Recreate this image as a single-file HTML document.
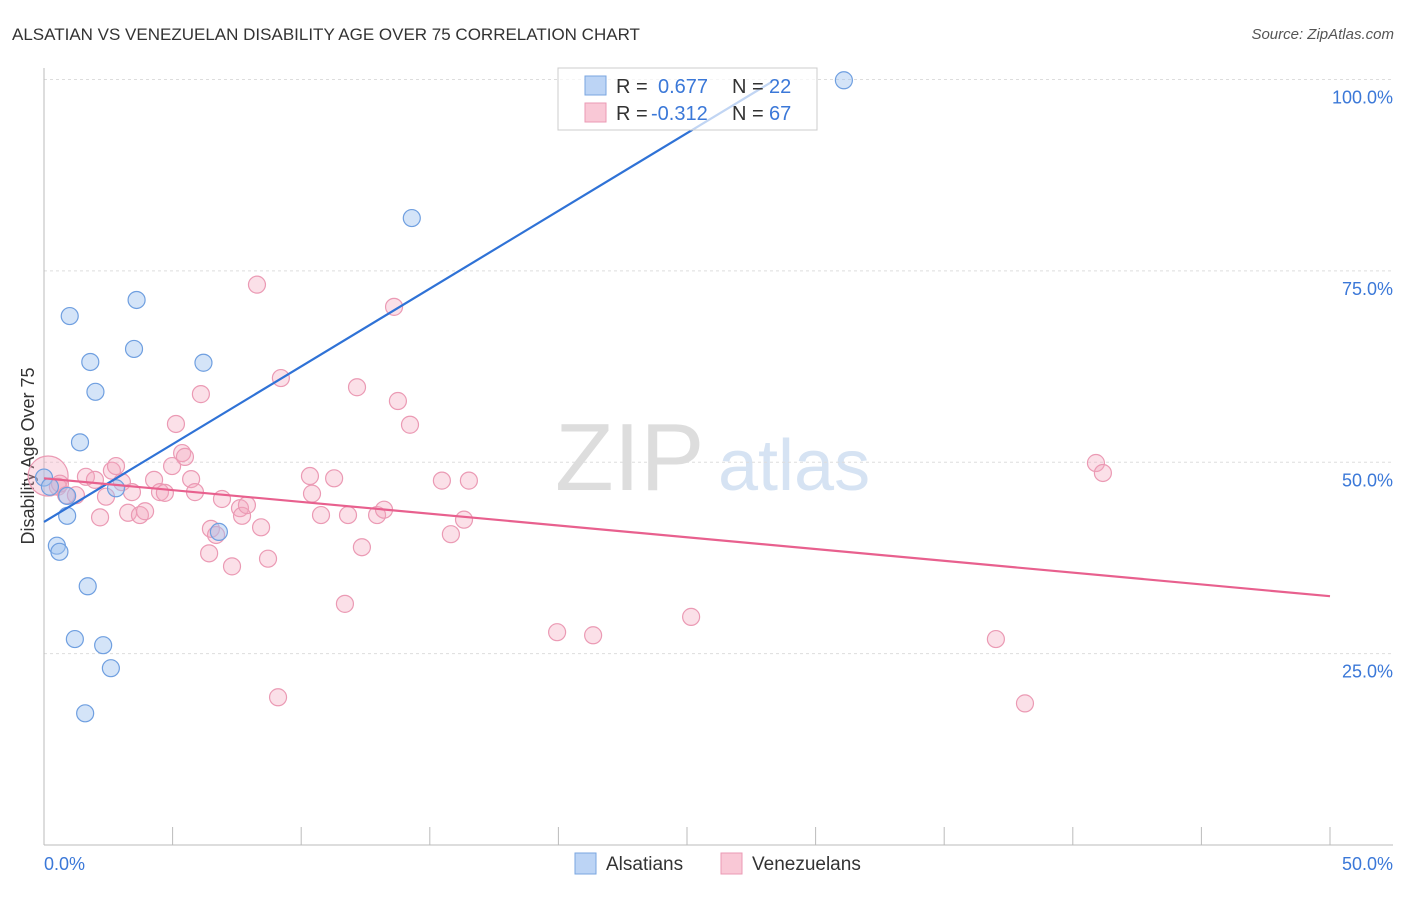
<!DOCTYPE html>
<html><head><meta charset="utf-8"><style>
body{margin:0;background:#fff;font-family:"Liberation Sans",sans-serif;}
svg text{font-family:"Liberation Sans",sans-serif;}
</style></head><body>
<svg id="c" width="1406" height="892" xmlns="http://www.w3.org/2000/svg">
<text x="12" y="40" font-size="17" fill="#333">ALSATIAN VS VENEZUELAN DISABILITY AGE OVER 75 CORRELATION CHART</text>
<text x="1394" y="39" font-size="15" fill="#555" text-anchor="end" font-style="italic">Source: ZipAtlas.com</text>
<text x="34" y="456" font-size="18" fill="#333" text-anchor="middle" transform="rotate(-90 34 456)">Disability Age Over 75</text>
<g><text x="555" y="490" font-size="96" fill="#ddd" font-family="Liberation Serif">ZIP</text><text x="718" y="490" font-size="72" fill="#d6e3f3">atlas</text></g>
<g id="grid"></g><g id="axes"></g><g id="pts"></g><g id="lines"></g>
<g>
<rect x="558" y="68" width="259" height="62" fill="#fff" fill-opacity="0.7" stroke="#ccc"/>
<rect x="585" y="76" width="21" height="19" fill="#bcd4f5" stroke="#7aa6e0"/>
<rect x="585" y="103" width="21" height="19" fill="#f9c8d6" stroke="#eb9ab4"/>
<text x="616" y="93" font-size="20" fill="#333">R =</text>
<text x="658" y="93" font-size="20" fill="#3b78d8">0.677</text>
<text x="732" y="93" font-size="20" fill="#333">N =</text>
<text x="769" y="93" font-size="20" fill="#3b78d8">22</text>
<text x="616" y="120" font-size="20" fill="#333">R =</text>
<text x="651" y="120" font-size="20" fill="#3b78d8">-0.312</text>
<text x="732" y="120" font-size="20" fill="#333">N =</text>
<text x="769" y="120" font-size="20" fill="#3b78d8">67</text>
</g>
<g>
<rect x="575" y="853" width="21" height="21" fill="#bcd4f5" stroke="#7aa6e0"/>
<text x="606" y="870" font-size="19" fill="#333">Alsatians</text>
<rect x="721" y="853" width="21" height="21" fill="#f9c8d6" stroke="#eb9ab4"/>
<text x="752" y="870" font-size="19" fill="#333">Venezuelans</text>
</g>
</svg>
<script>
const yTicks=[100,75,50,25];
const yTickLabels=["100.0%","75.0%","50.0%","25.0%"];
const xTickLabels=["0.0%","50.0%"];
const blueX=[0,0.23,1.0,1.8,2.0,3.6,3.5,6.2,1.4,0.9,0.9,0.5,0.6,1.7,1.2,2.3,2.6,1.6,2.8,6.8,14.3,31.1];
const blueY=[48.0,46.8,69.1,63.1,59.2,71.2,64.8,63.0,52.6,45.6,43.0,39.1,38.3,33.8,26.9,26.1,23.1,17.2,46.6,40.9,81.9,99.9];
const pinkX=[0.16,0.54,0.86,1.24,0.62,1.63,1.98,2.41,2.18,2.64,2.80,3.03,3.42,3.27,3.73,3.93,4.28,4.51,4.70,4.98,5.13,5.37,5.48,5.72,5.87,6.10,6.42,6.49,6.69,6.92,7.31,7.62,7.70,7.89,8.28,8.44,8.71,9.10,9.21,10.34,10.42,10.77,11.28,11.70,11.82,12.17,12.36,12.95,13.22,13.61,13.76,14.23,15.47,15.82,16.33,16.52,19.95,21.35,25.16,37.01,38.14,40.90,41.17];
const pinkY=[48.2,46.8,45.7,45.7,47.2,48.1,47.7,45.5,42.8,48.9,49.5,47.4,46.1,43.4,43.1,43.6,47.7,46.1,46.0,49.5,55.0,51.2,50.7,47.8,46.1,58.9,38.1,41.3,40.5,45.2,36.4,44.0,43.0,44.4,73.2,41.5,37.4,19.3,61.0,48.2,45.9,43.1,47.9,31.5,43.1,59.8,38.9,43.1,43.8,70.3,58.0,54.9,47.6,40.6,42.5,47.6,27.8,27.4,29.8,26.9,18.5,49.9,48.6];
const blueLine=[[0,42.2],[28.3,99.7]];
const pinkLine=[[0,47.9],[50,32.5]];
const NS="http://www.w3.org/2000/svg";
const sx=v=>44+v*25.72, sy=v=>845-v*7.655;
function mk(p,t,a){const e=document.createElementNS(NS,t);for(const k in a)e.setAttribute(k,a[k]);p.appendChild(e);return e;}
const grid=document.getElementById('grid'),axes=document.getElementById('axes'),pts=document.getElementById('pts'),lines=document.getElementById('lines');
yTicks.forEach((t,i)=>{
 const g=mk(grid,'line',{x1:44,x2:1393,y1:sy(t),y2:sy(t),stroke:'#ddd','stroke-dasharray':'3,3'});
 
 
 const l=mk(axes,'text',{x:1393,y:sy(t)+24,'font-size':18,fill:'#3b78d8','text-anchor':'end'});
 l.textContent=yTickLabels[i];
 
 
});
const ax=mk(axes,'line',{x1:44,x2:44,y1:68,y2:845,stroke:'#bbb'});


const bx=mk(axes,'line',{x1:44,x2:1393,y1:845,y2:845,stroke:'#bbb'});


for(let i=0;i<=10;i++){const tk=mk(axes,'line',{x1:sx(i*5),x2:sx(i*5),y1:827,y2:845,stroke:'#bbb'});
 
 }
[[0,'start',44],[50,'end',1393]].forEach((d,i)=>{const l=mk(axes,'text',{x:d[2],y:870,'font-size':18,fill:'#3b78d8','text-anchor':d[1]});l.textContent=xTickLabels[i];
 
 });
pinkX.forEach((x,i)=>{const c=mk(pts,'circle',{cx:sx(x),cy:sy(pinkY[i]),r:i==0?20:8.5,fill:'rgba(244,165,190,0.35)',stroke:'#eb9ab4','stroke-width':1.2});
 
 });
blueX.forEach((x,i)=>{const c=mk(pts,'circle',{cx:sx(x),cy:sy(blueY[i]),r:8.5,fill:'rgba(160,195,240,0.45)',stroke:'#6f9fe0','stroke-width':1.2});
 
 });
const bl=mk(lines,'line',{x1:sx(blueLine[0][0]),y1:sy(blueLine[0][1]),x2:sx(blueLine[1][0]),y2:sy(blueLine[1][1]),stroke:'#2f72d6','stroke-width':2.2});


const pl=mk(lines,'line',{x1:sx(pinkLine[0][0]),y1:sy(pinkLine[0][1]),x2:sx(pinkLine[1][0]),y2:sy(pinkLine[1][1]),stroke:'#e8608e','stroke-width':2.2});


</script>
</body></html>
